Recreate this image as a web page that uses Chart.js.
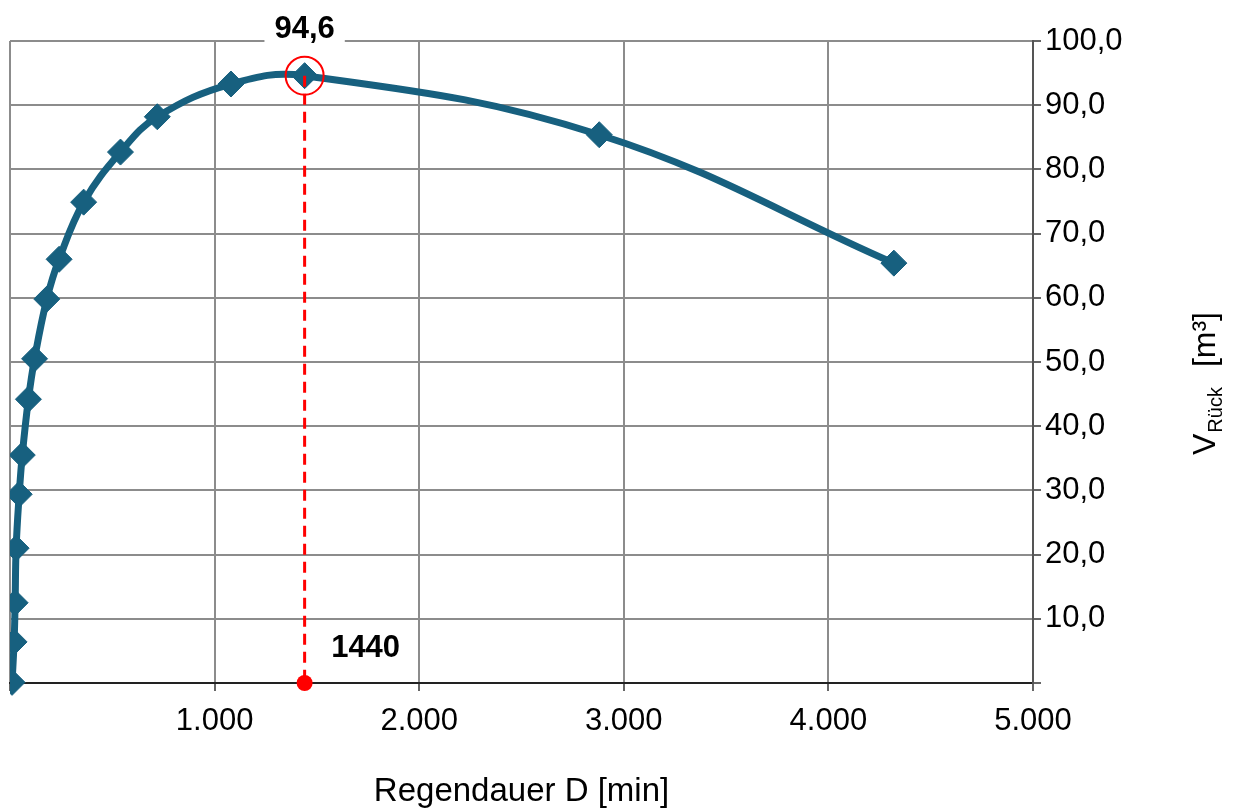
<!DOCTYPE html>
<html>
<head>
<meta charset="utf-8">
<script src="https://cdn.jsdelivr.net/npm/chart.js@4/dist/chart.umd.min.js"></script>
<style>
  body { margin: 0; background: #fff; }
  canvas { display: block; }
</style>
</head>
<body>
<canvas id="chart" width="1239" height="811"></canvas>
<script>
// Regendauer D [min] und Rückhaltevolumen [m³]
const durations = [10, 20, 25, 30, 45, 60, 90, 120, 180, 240, 360, 540, 720, 1080, 1440, 2880, 4320];
const volumes = [0.1, 6.4, 12.5, 21.0, 29.4, 35.5, 44.2, 50.5, 59.8, 66.0, 74.9, 82.7, 88.2, 93.3, 94.6, 85.4, 65.4];
const peakDuration = 1440;
const peakVolume = 94.6;
const xTicks = [0, 1000, 2000, 3000, 4000, 5000];
const yTicks = [0, 10, 20, 30, 40, 50, 60, 70, 80, 90, 100];

const FONT = "'Liberation Sans', Arial, sans-serif";
const lineColor = '#17607f';
const red = '#ff0000';

function fmtX(v) {
    if (v === 0) return '';
    return Math.floor(v / 1000) + '.' + String(v % 1000).padStart(3, '0');
}
function fmtY(v) {
    if (v === 0) return '';
    return v.toFixed(1).replace('.', ',');
}

const extras = {
    id: 'extras',
    afterDatasetsDraw(chart) {
        const ctx = chart.ctx;
        const xs = chart.scales.x, ys = chart.scales.y;
        const px = xs.getPixelForValue(peakDuration);
        const py = ys.getPixelForValue(peakVolume);
        const p0 = ys.getPixelForValue(0);

        ctx.save();
        // dashed marker line
        ctx.strokeStyle = red;
        ctx.lineWidth = 3;
        ctx.setLineDash([11, 7]);
        ctx.beginPath();
        ctx.moveTo(px, py);
        ctx.lineTo(px, p0);
        ctx.stroke();
        ctx.setLineDash([]);

        // circle round the peak
        ctx.lineWidth = 2;
        ctx.beginPath();
        ctx.arc(px, py, 19, 0, Math.PI * 2);
        ctx.stroke();

        // dot on the axis
        ctx.fillStyle = red;
        ctx.beginPath();
        ctx.arc(px, p0, 8, 0, Math.PI * 2);
        ctx.fill();

        // peak value label
        ctx.font = 'bold 31px ' + FONT;
        ctx.textAlign = 'center';
        ctx.textBaseline = 'middle';
        const lbl = peakVolume.toFixed(1).replace('.', ',');
        const w = ctx.measureText(lbl).width;
        ctx.fillStyle = '#fff';
        ctx.fillRect(px - w / 2 - 10, 10, w + 20, 36);
        ctx.fillStyle = '#000';
        ctx.fillText(lbl, px, 29);

        // duration label
        ctx.fillText(String(peakDuration), px + 61, 648);

        // x title
        ctx.font = '33px ' + FONT;
        ctx.fillText('Regendauer D [min]', (chart.chartArea.left + chart.chartArea.right) / 2, 792);

        // y title, rotated, with subscript
        ctx.translate(1215, 455);
        ctx.rotate(-Math.PI / 2);
        ctx.textAlign = 'left';
        ctx.textBaseline = 'alphabetic';
        ctx.font = '32px ' + FONT;
        ctx.fillText('V', 0, 0);
        let off = ctx.measureText('V').width + 1;
        ctx.font = '20px ' + FONT;
        ctx.fillText('Rück', off, 7);
        off += ctx.measureText('Rück').width + 20;
        ctx.font = '32px ' + FONT;
        ctx.fillText('[m³]', off, 0);
        ctx.restore();
    }
};

new Chart(document.getElementById('chart'), {
    type: 'scatter',
    data: {
        datasets: [{
            data: durations.map((d, i) => ({ x: d, y: volumes[i] })),
            showLine: true,
            tension: 0.4,
            borderColor: lineColor,
            borderWidth: 7,
            pointStyle: 'rectRot',
            pointRadius: 13,
            pointBackgroundColor: lineColor,
            pointBorderColor: lineColor,
            pointBorderWidth: 1,
            clip: { left: 0, top: 20, right: 20, bottom: 14 }
        }]
    },
    options: {
        responsive: false,
        devicePixelRatio: 1,
        animation: false,
        layout: { autoPadding: false, padding: { left: 10, top: 41, right: 0, bottom: 0 } },
        plugins: {
            legend: { display: false },
            tooltip: { enabled: false }
        },
        scales: {
            x: {
                type: 'linear',
                min: 0,
                max: 5000,
                afterBuildTicks: s => { s.ticks = xTicks.map(v => ({ value: v })); },
                afterFit: s => { s.height = 128; },
                ticks: {
                    autoSkip: false,
                    maxRotation: 0,
                    padding: 8,
                    color: '#000',
                    font: { family: FONT, size: 31, lineHeight: 1.45 },
                    callback: v => fmtX(v)
                },
                grid: { color: '#8c8c8c', lineWidth: 2, tickColor: '#333', tickLength: 8, tickWidth: 1.5 },
                border: { color: '#222', width: 2 }
            },
            y: {
                position: 'right',
                min: 0,
                max: 100,
                afterBuildTicks: s => { s.ticks = yTicks.map(v => ({ value: v })); },
                afterFit: s => { s.width = 206; },
                ticks: {
                    autoSkip: false,
                    padding: 4,
                    color: '#000',
                    font: { family: FONT, size: 31 },
                    callback: v => fmtY(v)
                },
                grid: { color: '#8c8c8c', lineWidth: 2, tickColor: '#333', tickLength: 8, tickWidth: 1.5 },
                border: { color: '#555', width: 2 }
            }
        }
    },
    plugins: [extras]
});
</script>
</body>
</html>
